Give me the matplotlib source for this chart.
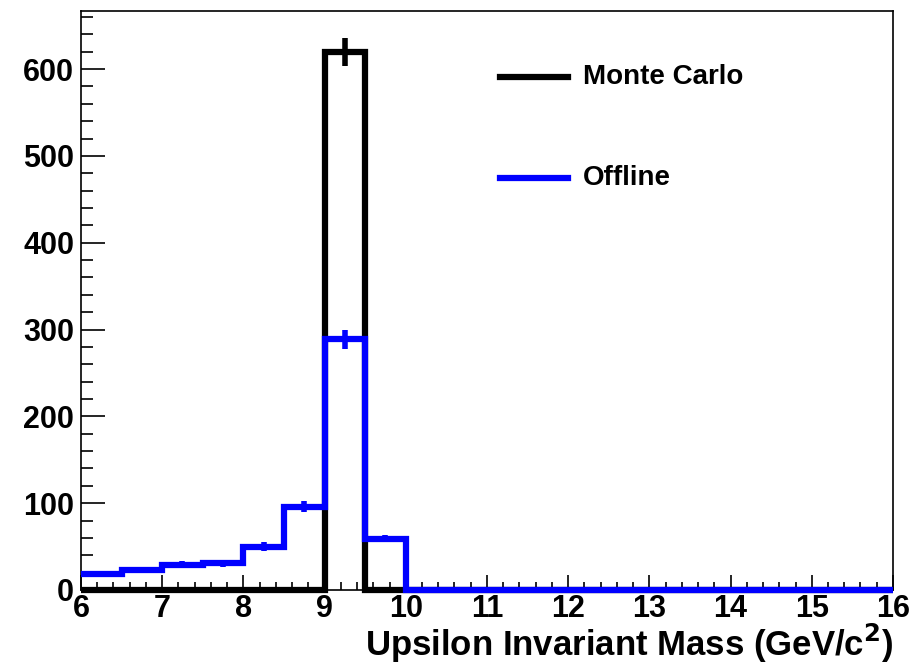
import numpy as np
import matplotlib
matplotlib.use('Agg')
import matplotlib.pyplot as plt
from matplotlib.ticker import MultipleLocator

plt.rcParams['font.family'] = ['Liberation Sans', 'DejaVu Sans']
plt.rcParams['font.weight'] = 'bold'

# bin edges (GeV/c^2), 0.5 wide from 6 to 16
edges = np.arange(6.0, 16.01, 0.5)

# Monte Carlo counts per bin
mc_counts = [0, 0, 0, 0, 0, 0, 620, 0, 0, 0,
             0, 0, 0, 0, 0, 0, 0, 0, 0, 0]
mc_err = [0, 0, 0, 0, 0, 0, 16, 0, 0, 0,
          0, 0, 0, 0, 0, 0, 0, 0, 0, 0]

# Offline counts per bin
off_counts = [18, 23, 29, 31, 50, 96, 289, 59, 0, 0,
              0, 0, 0, 0, 0, 0, 0, 0, 0, 0]
off_err = [3, 3, 4, 4, 5, 6, 11, 4, 0, 0,
           0, 0, 0, 0, 0, 0, 0, 0, 0, 0]

fig = plt.figure(figsize=(9.11, 6.68), dpi=100)
ax = fig.add_axes([0.0889, 0.1168, 0.8913, 0.8668])

centers = 0.5 * (edges[:-1] + edges[1:])

ax.stairs(mc_counts, edges, color='black', linewidth=4.5, baseline=0, clip_on=False, zorder=2)
m = np.array(mc_err) > 0
ax.errorbar(centers[m], np.array(mc_counts)[m], yerr=np.array(mc_err)[m],
            fmt='none', ecolor='black', elinewidth=4, capsize=0, zorder=2)

ax.stairs(off_counts, edges, color='#0000ff', linewidth=4.5, baseline=None, clip_on=False, zorder=3)
o = np.array(off_err) > 0
ax.errorbar(centers[o], np.array(off_counts)[o], yerr=np.array(off_err)[o],
            fmt='none', ecolor='#0000ff', elinewidth=4, capsize=0, zorder=3)

ax.set_xlim(6, 16)
ax.set_ylim(0, 667)

ax.xaxis.set_major_locator(MultipleLocator(1))
ax.xaxis.set_minor_locator(MultipleLocator(0.2))
ax.yaxis.set_major_locator(MultipleLocator(100))
ax.yaxis.set_minor_locator(MultipleLocator(20))
ax.tick_params(which='both', direction='in', top=False, right=False, width=1.2,
               labelsize=22)
ax.tick_params(axis='x', which='major', length=11, pad=3)
ax.tick_params(axis='x', which='minor', length=6)
ax.tick_params(axis='y', which='major', length=17, pad=5)
ax.tick_params(axis='y', which='minor', length=8.5)
for sp in ax.spines.values():
    sp.set_linewidth(1.2)

ax.set_xlabel('Upsilon Invariant Mass (GeV/c$^\\mathbf{2}$)', fontsize=25,
              fontweight='bold', loc='right', labelpad=-2)

# legend drawn ROOT-style
ax.plot([0.516, 0.600], [0.886, 0.886], transform=ax.transAxes, color='black', linewidth=4.5)
ax.text(0.618, 0.886, 'Monte Carlo', transform=ax.transAxes, fontsize=20,
        fontweight='bold', va='center')
ax.plot([0.516, 0.600], [0.711, 0.711], transform=ax.transAxes, color='#0000ff', linewidth=4.5)
ax.text(0.618, 0.711, 'Offline', transform=ax.transAxes, fontsize=20,
        fontweight='bold', va='center')

plt.savefig('out.png', dpi=100)
